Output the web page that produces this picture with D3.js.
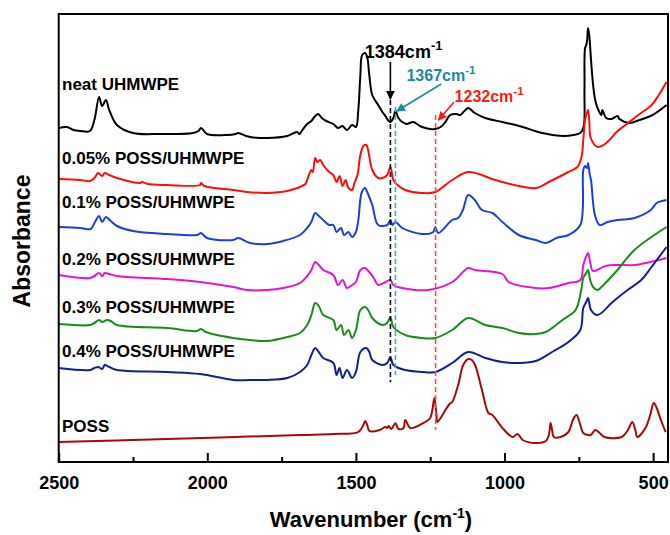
<!DOCTYPE html>
<html>
<head>
<meta charset="utf-8">
<script src="https://cdn.jsdelivr.net/npm/d3@7"></script>
<style>
  body { margin: 0; background: #fff; }
  text { font-family: Arial, "Liberation Sans", sans-serif; font-weight: bold; }
</style>
</head>
<body>
<div id="content"></div>
<script>
// Set up canvas
var width = 670, height = 535;
var plotLeft = 58.7, plotRight = 668, plotTop = 14, plotBottom = 462;

// [wavenumber (cm-1), absorbance (a.u., offset)]
var neat = [[2500,3.34],[2472,3.35],[2450,3.32],[2428,3.31],[2395,3.31],[2380,3.42],[2364,3.65],[2354,3.56],[2341,3.62],[2330,3.52],[2304,3.37],[2250,3.29],[2159,3.28],[2048,3.29],[2030,3.31],[2021,3.34],[2001,3.28],[1933,3.27],[1905,3.28],[1896,3.29],[1870,3.26],[1856,3.25],[1799,3.24],[1731,3.26],[1698,3.30],[1690,3.28],[1680,3.32],[1664,3.38],[1650,3.41],[1637,3.46],[1627,3.48],[1615,3.44],[1600,3.41],[1576,3.38],[1560,3.34],[1545,3.36],[1530,3.32],[1513,3.37],[1500,3.35],[1492,3.52],[1485,3.87],[1479,4.07],[1469,4.09],[1462,4.05],[1455,3.87],[1445,3.67],[1425,3.57],[1411,3.50],[1401,3.46],[1390,3.41],[1384,3.40],[1374,3.44],[1367,3.51],[1357,3.44],[1344,3.40],[1330,3.38],[1307,3.40],[1290,3.37],[1277,3.35],[1250,3.33],[1233,3.33],[1215,3.35],[1199,3.40],[1183,3.47],[1162,3.48],[1149,3.47],[1135,3.51],[1122,3.54],[1100,3.49],[1065,3.44],[1007,3.40],[939,3.35],[873,3.29],[800,3.26],[768,3.27],[745,3.29],[734,3.35],[731,3.72],[729,4.14],[725,4.17],[722,4.22],[719,4.34],[715,4.27],[709,4.02],[702,3.77],[695,3.62],[687,3.54],[674,3.47],[671,3.52],[658,3.44],[640,3.43],[620,3.46],[613,3.43],[580,3.39],[546,3.42],[502,3.47],[455,3.57]];

var poss005 = [[2500,2.83],[2428,2.82],[2395,2.81],[2380,2.84],[2367,2.89],[2354,2.86],[2345,2.89],[2330,2.87],[2304,2.84],[2226,2.79],[2220,2.80],[2200,2.78],[2135,2.77],[2024,2.77],[2021,2.79],[2010,2.76],[1913,2.72],[1866,2.70],[1799,2.69],[1731,2.71],[1688,2.75],[1670,2.78],[1664,2.82],[1650,2.92],[1645,2.90],[1637,3.04],[1630,3.00],[1620,3.02],[1610,2.97],[1590,2.90],[1576,2.87],[1565,2.80],[1555,2.86],[1545,2.76],[1535,2.82],[1525,2.74],[1513,2.72],[1505,2.79],[1495,2.87],[1485,3.07],[1475,3.16],[1465,3.17],[1459,3.12],[1445,2.92],[1425,2.84],[1411,2.84],[1395,2.87],[1384,2.95],[1374,2.82],[1360,2.77],[1334,2.72],[1277,2.69],[1233,2.70],[1176,2.82],[1122,2.90],[1031,2.82],[952,2.76],[895,2.74],[851,2.80],[785,2.90],[755,2.95],[741,3.05],[735,3.22],[729,3.42],[722,3.50],[719,3.52],[715,3.42],[710,3.24],[687,3.15],[667,3.17],[647,3.22],[623,3.30],[593,3.37],[550,3.47],[505,3.57],[481,3.67],[455,3.80]];

var poss01 = [[2500,2.35],[2428,2.34],[2392,2.33],[2378,2.40],[2364,2.46],[2354,2.40],[2341,2.45],[2325,2.41],[2304,2.36],[2250,2.31],[2135,2.28],[2034,2.27],[2021,2.29],[2001,2.24],[1913,2.22],[1896,2.24],[1856,2.19],[1799,2.18],[1745,2.21],[1688,2.27],[1664,2.34],[1650,2.40],[1637,2.49],[1625,2.46],[1610,2.42],[1590,2.37],[1576,2.37],[1565,2.30],[1550,2.34],[1540,2.27],[1525,2.30],[1513,2.25],[1500,2.30],[1492,2.42],[1480,2.70],[1469,2.74],[1462,2.70],[1445,2.57],[1425,2.37],[1395,2.37],[1384,2.42],[1377,2.37],[1367,2.40],[1344,2.34],[1277,2.28],[1240,2.30],[1233,2.35],[1223,2.29],[1176,2.42],[1156,2.44],[1140,2.52],[1122,2.67],[1100,2.62],[1076,2.52],[1041,2.49],[1007,2.40],[952,2.27],[895,2.22],[861,2.19],[825,2.24],[785,2.27],[745,2.37],[735,2.92],[729,2.96],[722,2.94],[719,2.99],[713,2.87],[709,2.82],[696,2.47],[680,2.37],[653,2.40],[620,2.42],[563,2.44],[508,2.52],[488,2.59],[455,2.62]];

var poss02 = [[2500,1.87],[2395,1.84],[2380,1.86],[2364,1.89],[2354,1.86],[2345,1.89],[2330,1.88],[2304,1.86],[2135,1.83],[2024,1.80],[1913,1.75],[1866,1.72],[1799,1.72],[1745,1.74],[1688,1.79],[1664,1.86],[1650,1.92],[1637,2.00],[1625,1.97],[1610,1.92],[1576,1.87],[1560,1.77],[1545,1.82],[1530,1.74],[1513,1.77],[1500,1.80],[1485,1.92],[1469,1.94],[1455,1.90],[1440,1.84],[1425,1.77],[1400,1.80],[1384,1.82],[1374,1.77],[1344,1.74],[1257,1.72],[1176,1.80],[1122,1.94],[1100,1.92],[1007,1.88],[986,1.80],[895,1.74],[851,1.74],[785,1.79],[745,1.82],[735,1.97],[725,2.06],[719,2.09],[712,2.00],[702,1.91],[660,1.96],[620,1.97],[563,1.97],[455,2.04]];

var poss03 = [[2500,1.38],[2395,1.37],[2380,1.39],[2364,1.42],[2354,1.40],[2338,1.42],[2325,1.41],[2304,1.37],[2135,1.34],[2035,1.31],[2021,1.33],[2005,1.30],[1913,1.24],[1856,1.22],[1799,1.21],[1731,1.25],[1688,1.29],[1664,1.37],[1650,1.47],[1637,1.59],[1625,1.56],[1610,1.47],[1576,1.42],[1565,1.32],[1550,1.37],[1540,1.27],[1525,1.32],[1513,1.24],[1500,1.32],[1485,1.52],[1469,1.55],[1459,1.52],[1445,1.44],[1411,1.37],[1395,1.39],[1384,1.45],[1374,1.35],[1334,1.27],[1277,1.24],[1233,1.24],[1176,1.32],[1122,1.44],[1065,1.37],[1007,1.34],[952,1.29],[895,1.28],[861,1.30],[805,1.42],[761,1.52],[742,1.72],[735,1.84],[725,1.89],[719,1.92],[712,1.82],[702,1.75],[687,1.72],[674,1.75],[620,1.92],[563,2.12],[455,2.35]];

var poss04 = [[2500,0.94],[2395,0.92],[2380,0.94],[2367,0.95],[2354,0.93],[2345,0.97],[2330,0.95],[2304,0.92],[2135,0.90],[2024,0.88],[1913,0.82],[1856,0.82],[1799,0.82],[1731,0.84],[1688,0.90],[1664,0.97],[1650,1.07],[1637,1.14],[1625,1.10],[1610,1.04],[1576,0.99],[1565,0.87],[1555,0.94],[1545,0.84],[1530,0.92],[1513,0.84],[1500,0.90],[1485,1.10],[1465,1.14],[1455,1.10],[1445,1.02],[1411,0.97],[1395,0.99],[1384,1.05],[1374,0.97],[1334,0.92],[1277,0.90],[1233,0.90],[1176,0.99],[1122,1.10],[1065,1.04],[1007,1.00],[952,0.99],[895,1.01],[840,1.10],[785,1.20],[745,1.32],[735,1.54],[725,1.60],[719,1.64],[709,1.52],[690,1.47],[674,1.49],[640,1.59],[586,1.72],[540,1.82],[508,1.94],[455,2.15]];

var poss = [[2500,0.20],[2135,0.23],[1688,0.27],[1576,0.28],[1492,0.30],[1475,0.37],[1469,0.41],[1462,0.37],[1455,0.31],[1420,0.32],[1401,0.35],[1395,0.34],[1390,0.36],[1381,0.33],[1367,0.39],[1357,0.33],[1340,0.34],[1334,0.42],[1317,0.34],[1267,0.40],[1250,0.44],[1243,0.52],[1236,0.64],[1229,0.47],[1226,0.40],[1215,0.44],[1199,0.52],[1185,0.58],[1176,0.60],[1156,0.77],[1139,0.97],[1122,1.03],[1110,1.02],[1099,0.97],[1076,0.72],[1054,0.49],[1041,0.47],[1007,0.34],[973,0.25],[956,0.28],[939,0.22],[895,0.19],[861,0.21],[851,0.27],[845,0.39],[840,0.32],[834,0.25],[811,0.25],[785,0.30],[770,0.42],[758,0.47],[745,0.37],[735,0.29],[710,0.27],[695,0.32],[680,0.29],[664,0.25],[606,0.25],[585,0.32],[570,0.40],[560,0.32],[553,0.25],[526,0.34],[510,0.47],[498,0.59],[488,0.54],[474,0.42],[458,0.30]];

var seriesData = [neat, poss005, poss01, poss02, poss03, poss04, poss];
var seriesNames = ["neat UHMWPE", "0.05% POSS/UHMWPE", "0.1% POSS/UHMWPE", "0.2% POSS/UHMWPE", "0.3% POSS/UHMWPE", "0.4% POSS/UHMWPE", "POSS"];
var seriesColors = ["#000000", "#ff0d0d", "#1c3fd4", "#e815c8", "#1b8a1b", "#12208c", "#a50a0a"];
var labelY = [3.72, 2.98, 2.54, 1.97, 1.49, 1.05, 0.30]; // label baselines, in absorbance units

var majorTicks = [2500, 2000, 1500, 1000, 500];
var minorTicks = [2250, 1750, 1250, 750];

// marked bands
var bands = [1384, 1367, 1232];
var bandLabels = ["1384cm", "1367cm", "1232cm"];
var bandText = ["#000000", "#1a87a5", "#ff1a1a"];
var bandLine = ["#000000", "#3ab0c8", "#ff4a4a"];
var bandTop = [3.62, 3.55, 3.47];
var bandBottom = [0.80, 0.87, 0.32];

var svg = d3.select("#content")
    .append("svg")
    .attr("width", width)
    .attr("height", height);

var xscale = d3.scaleLinear()
    .domain([2500, 450])
    .range([plotLeft, plotRight]);

var yscale = d3.scaleLinear()
    .domain([0, 4.48])
    .range([plotBottom, plotTop]);

var line = d3.line()
    .x(function(d) { return xscale(d[0]); })
    .y(function(d) { return yscale(d[1]); })
    .curve(d3.curveCatmullRom.alpha(0.5));

// spectra
for (var i = 0; i < seriesData.length; i++) {
    svg.append("path")
        .datum(seriesData[i])
        .attr("d", line)
        .attr("fill", "none")
        .attr("stroke", seriesColors[i])
        .attr("stroke-width", 2)
        .attr("stroke-linejoin", "round");

    svg.append("text")
        .attr("x", 62)
        .attr("y", yscale(labelY[i]))
        .style("font-size", "17px")
        .text(seriesNames[i]);
}

// dashed lines
for (var j = 0; j < bands.length; j++) {
    svg.append("line")
        .attr("x1", xscale(bands[j]))
        .attr("x2", xscale(bands[j]))
        .attr("y1", yscale(bandTop[j]))
        .attr("y2", yscale(bandBottom[j]))
        .attr("stroke", bandLine[j])
        .attr("stroke-width", 1.6)
        .attr("stroke-dasharray", "5,3");
}

// arrows
var defs = svg.append("defs");
bandText.forEach(function(c, k) {
    defs.append("marker")
        .attr("id", "arrow" + k)
        .attr("viewBox", "0 0 10 10")
        .attr("refX", 9).attr("refY", 5)
        .attr("markerWidth", 5.5).attr("markerHeight", 5.5)
        .attr("orient", "auto")
        .append("path")
        .attr("d", "M0,0L10,5L0,10z")
        .attr("fill", c);
});

var arrowFrom = [[1384, 4.0], [1213, 3.78], [1170, 3.6]];
var arrowTo = [[1384, 3.63], [1362, 3.51], [1222, 3.42]];
for (var a = 0; a < arrowFrom.length; a++) {
    svg.append("line")
        .attr("x1", xscale(arrowFrom[a][0]))
        .attr("y1", yscale(arrowFrom[a][1]))
        .attr("x2", xscale(arrowTo[a][0]))
        .attr("y2", yscale(arrowTo[a][1]))
        .attr("stroke", bandText[a])
        .attr("stroke-width", 1.6)
        .attr("marker-end", "url(#arrow" + a + ")");
}

// band labels
var bandLabelPos = [[1470, 4.04, 18], [1330, 3.81, 16], [1168, 3.60, 16]];
for (var b = 0; b < bandLabels.length; b++) {
    var t = svg.append("text")
        .attr("x", xscale(bandLabelPos[b][0]))
        .attr("y", yscale(bandLabelPos[b][1]))
        .attr("fill", bandText[b])
        .style("font-size", bandLabelPos[b][2] + "px");
    t.append("tspan").text(bandLabels[b]);
    t.append("tspan")
        .attr("dy", -bandLabelPos[b][2] * 0.45)
        .style("font-size", (bandLabelPos[b][2] * 0.72) + "px")
        .text("-1");
}

// axes
var x_axis = d3.axisBottom()
    .scale(xscale)
    .tickValues(majorTicks)
    .tickSize(-9)
    .tickPadding(14)
    .tickFormat(d3.format("d"));

var gx = svg.append("g")
    .attr("transform", "translate(0," + plotBottom + ")")
    .call(x_axis);
gx.select(".domain").remove();
gx.selectAll("line").attr("stroke", "#000").attr("stroke-width", 2);
gx.selectAll("text")
    .style("font-size", "18px")
    .style("font-family", "Arial, 'Liberation Sans', sans-serif")
    .style("font-weight", "bold");

var x_minor = d3.axisBottom()
    .scale(xscale)
    .tickValues(minorTicks)
    .tickSize(-5)
    .tickFormat("");

var gm = svg.append("g")
    .attr("transform", "translate(0," + plotBottom + ")")
    .call(x_minor);
gm.select(".domain").remove();
gm.selectAll("line").attr("stroke", "#000").attr("stroke-width", 2);

// frame
svg.append("rect")
    .attr("x", plotLeft)
    .attr("y", plotTop)
    .attr("width", plotRight - plotLeft)
    .attr("height", plotBottom - plotTop)
    .attr("fill", "none")
    .attr("stroke", "#000")
    .attr("stroke-width", 2);

// axis titles
svg.append("text")
    .attr("transform", "translate(30,241) rotate(-90)")
    .attr("text-anchor", "middle")
    .style("font-size", "23px")
    .text("Absorbance");

var xt = svg.append("text")
    .attr("x", 371)
    .attr("y", 527)
    .attr("text-anchor", "middle")
    .style("font-size", "22px");
xt.append("tspan").text("Wavenumber (cm");
xt.append("tspan").attr("dy", -9).style("font-size", "14px").text("-1");
xt.append("tspan").attr("dy", 9).text(")");
</script>
</body>
</html>
